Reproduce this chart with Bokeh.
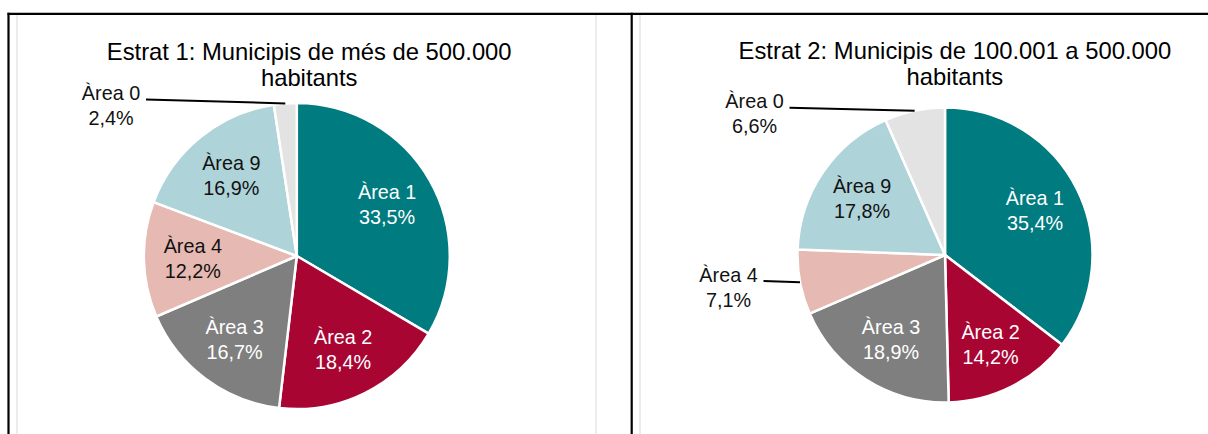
import math
from bokeh.plotting import figure
from bokeh.models import Range1d, ColumnDataSource
from bokeh.core.properties import value
from bokeh.embed import file_html
from bokeh.resources import INLINE

# ---------------- data ----------------
categories = ["Àrea 1", "Àrea 2", "Àrea 3", "Àrea 4", "Àrea 9", "Àrea 0"]
estrat1_values = [33.5, 18.4, 16.7, 12.2, 16.9, 2.4]
estrat2_values = [35.4, 14.2, 18.9, 7.1, 17.8, 6.6]
estrat1_title = ["Estrat 1: Municipis de més de 500.000", "habitants"]
estrat2_title = ["Estrat 2: Municipis de 100.001 a 500.000", "habitants"]

# ---------------- styles ----------------
slice_colors = ["#007B80", "#A80533", "#7F7F7F", "#E6B9B3", "#AED3D9", "#E3E3E3"]
label_colors = ["#FFFFFF", "#FFFFFF", "#FFFFFF", "#111111", "#111111", "#111111"]
W, H = 1208, 434
FONT = "Liberation Sans"
TITLE_SIZE = "23.8px"
LABEL_SIZE = "19.8px"


def X(px):
    return px


def Y(py):
    return H - py


p = figure(width=W, height=H, x_range=Range1d(0, W), y_range=Range1d(0, H),
           output_backend="svg", toolbar_location=None, min_border=0,
           x_axis_location=None, y_axis_location=None)
p.grid.visible = False
p.outline_line_color = None
p.background_fill_color = "white"
p.border_fill_color = "white"

# ---------------- frame lines ----------------
top_y = Y(13.3)
p.segment(x0=[X(16.5), X(595.5), X(639.5)], y0=[top_y, top_y, top_y],
          x1=[X(16.5), X(595.5), X(639.5)], y1=[0, 0, 0],
          line_color="#D9D9D9", line_width=1)
p.segment(x0=[X(7), X(8), X(631.2)], y0=[top_y, top_y + 1, top_y + 1],
          x1=[W, X(8), X(631.2)], y1=[top_y, 0, 0],
          line_color="black", line_width=2.2)


def fmt(v):
    return f"{v:.1f}".replace(".", ",") + "%"


def draw_pie(values, title, cx, cy, r, tx, tb, outside):
    total = sum(values)
    fracs = [v / total for v in values]
    starts, ends, mids = [], [], []
    cum = 0.0
    for f in fracs:
        starts.append(math.pi / 2 - 2 * math.pi * cum)
        mids.append(math.pi / 2 - 2 * math.pi * (cum + f / 2))
        cum += f
        ends.append(math.pi / 2 - 2 * math.pi * cum)
    src = ColumnDataSource(dict(start=starts, end=ends, color=slice_colors,
                                cat=categories))
    p.wedge(x=cx, y=cy, radius=r, start_angle="start", end_angle="end",
            direction="clock", fill_color="color", line_color="white",
            line_width=2.5, source=src)

    # labels
    lx, ly, names, pcts, cols = [], [], [], [], []
    lead_x0, lead_y0, lead_x1, lead_y1 = [], [], [], []
    for i, cat in enumerate(categories):
        if cat in outside:
            dx, dy = outside[cat]
            x, y = cx + dx, cy + dy
            lead_x0.append(x + 35)
            lead_y0.append(y + 12.5 - 6.5)
            lead_x1.append(cx + r * math.cos(mids[i]))
            lead_y1.append(cy + r * math.sin(mids[i]))
            col = "#111111"
        else:
            x = cx + 0.68 * r * math.cos(mids[i])
            y = cy + 0.68 * r * math.sin(mids[i])
            col = label_colors[i]
        lx.append(x)
        ly.append(y)
        names.append(cat)
        pcts.append(fmt(values[i]))
        cols.append(col)
    if lead_x0:
        p.segment(x0=lead_x0, y0=lead_y0, x1=lead_x1, y1=lead_y1,
                  line_color="black", line_width=2)
    lsrc = ColumnDataSource(dict(x=lx, y1=[v + 12.5 for v in ly],
                                 y2=[v - 12.5 for v in ly],
                                 name=names, pct=pcts, color=cols))
    for ycol, tcol in (("y1", "name"), ("y2", "pct")):
        p.text(x="x", y=ycol, text=tcol, source=lsrc, text_color="color",
               text_align="center", text_baseline="middle",
               text_font=value(FONT), text_font_size=LABEL_SIZE)

    # title
    p.text(x=[tx, tx], y=tb, text=title, text_color="black",
           text_align="center", text_baseline="alphabetic",
           text_font=value(FONT), text_font_size=TITLE_SIZE)


draw_pie(estrat1_values, estrat1_title, X(296.3), Y(255.5), 153,
         X(308.7), [Y(50.7), Y(76.7)],
         {"Àrea 0": (-185.8, 150.5)})
draw_pie(estrat2_values, estrat2_title, X(944.5), Y(254.5), 147.5,
         X(954.4), [Y(50.3), Y(76.3)],
         {"Àrea 0": (-190.5, 141.2), "Àrea 4": (-216.5, -32.0)})

open("out.html", "w").write(file_html(p, INLINE))
